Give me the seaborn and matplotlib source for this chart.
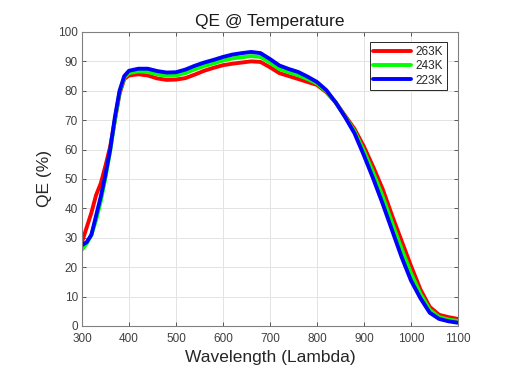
import numpy as np
import pandas as pd
import seaborn as sns
import matplotlib
matplotlib.use("Agg")
import matplotlib.pyplot as plt

wavelength = [300, 310, 320, 330, 340, 350, 360, 370, 380, 390, 400,
              420, 440, 460, 480, 500, 520, 540, 560, 580, 600, 620, 640, 660, 680,
              700, 720, 740, 760, 780, 800, 820, 840, 860, 880, 900, 920, 940, 960,
              980, 1000, 1020, 1040, 1060, 1080, 1100]
qe_263 = [28.5, 33.5, 38.5, 44.5, 48.5, 54.5, 61, 70, 79, 84, 85.2,
          85.6, 85.2, 84.2, 83.7, 83.8, 84.3, 85.5, 86.8, 87.8, 88.7, 89.2, 89.6, 90, 89.8,
          88, 86, 85, 84, 83, 82, 79.5, 76, 71.5, 67, 61, 54, 46.5, 37.5,
          29, 20.5, 12.5, 6.5, 3.8, 3, 2.4]
qe_243 = [26, 28, 31, 36, 42.5, 50.5, 59.5, 70, 79.5, 84.5, 86,
          86.6, 86.4, 85.6, 85.1, 85.2, 86, 87.3, 88.4, 89.3, 90.3, 91, 91.4, 91.8, 91.5,
          89.6, 87.4, 86.3, 85.3, 84, 82.5, 79.8, 76, 71.2, 66.2, 59.5, 52, 44, 35,
          26.3, 18, 11, 5.5, 3, 2.2, 1.7]
qe_223 = [27.5, 28.5, 31, 37.5, 44, 51.5, 60, 71, 80, 85, 86.8,
          87.5, 87.5, 86.7, 86.2, 86.3, 87.2, 88.5, 89.6, 90.5, 91.5, 92.3, 92.8, 93.2, 92.8,
          90.8, 88.6, 87.4, 86.4, 84.8, 83, 80.2, 76, 71, 65.5, 58, 50, 41.5, 32.5,
          23.5, 15.5, 9.5, 4.5, 2.4, 1.6, 1.1]
series = ["263K", "243K", "223K"]
colors = ["#ff0000", "#00ff00", "#0000ff"]

df = pd.concat([
    pd.DataFrame({"Wavelength": wavelength, "QE": vals, "Temp": name})
    for name, vals in zip(series, [qe_263, qe_243, qe_223])
])

sns.set_theme(style="whitegrid")
plt.rcParams["font.family"] = ["Liberation Sans", "DejaVu Sans"]

fig = plt.figure(figsize=(5.06, 3.76), dpi=100)
ax = fig.add_axes([0.162, 0.133, 0.743, 0.782])
sns.lineplot(data=df, x="Wavelength", y="QE", hue="Temp", hue_order=series,
             palette=colors, linewidth=2.8, ax=ax, legend=True)
for ln in ax.get_lines():
    ln.set_solid_joinstyle("round")
    ln.set_solid_capstyle("round")

ax.set_xlim(300, 1100)
ax.set_ylim(0, 100)
ax.set_xticks(range(300, 1101, 100))
ax.set_yticks(range(0, 101, 10))
ax.grid(True, color="#e3e3e3", linewidth=0.7)
ax.set_facecolor("white")
for s in ax.spines.values():
    s.set_visible(True)
    s.set_color("#808080")
    s.set_linewidth(0.8)
ax.tick_params(direction="in", length=3, width=0.6, colors="#404040",
               labelsize=8.5, top=True, right=True, bottom=True, left=True,
               pad=5)
ax.tick_params(axis="y", pad=3)
ax.set_xlabel("Wavelength (Lambda)", fontsize=12.5, color="#262626", labelpad=4)
ax.set_ylabel("QE (%)", fontsize=12.5, color="#262626", labelpad=4)
ax.set_title("QE @ Temperature", fontsize=12.5, color="#1a1a1a", pad=4)

leg = ax.legend(loc="upper right", fontsize=8.5, frameon=True, fancybox=False,
                edgecolor="#262626", framealpha=1, handlelength=3.2,
                borderpad=0.3, labelspacing=0.2, handletextpad=0.4,
                borderaxespad=0, bbox_to_anchor=(0.97, 0.965))
leg.get_frame().set_linewidth(0.7)
for line in leg.get_lines():
    line.set_linewidth(2.8)

fig.savefig("out.png", dpi=100)
